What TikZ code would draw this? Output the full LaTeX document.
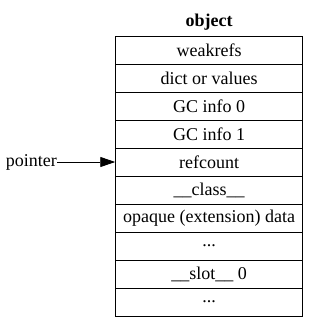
\documentclass[tikz,border=0pt]{standalone}
\usepackage{fontspec}
\setmainfont{Liberation Serif}
\usetikzlibrary{arrows.meta}
\begin{document}
\begin{tikzpicture}[x=1pt,y=-1pt,
  cell/.style={draw, line width=0.9pt, minimum width=187pt, minimum height=28pt, inner sep=0pt, font=\fontsize{18}{20}\selectfont},
  lbl/.style={inner sep=0pt, font=\fontsize{18}{20}\selectfont}]
\useasboundingbox (0,0) rectangle (319,327);
\node[cell] (r0) at (209.2,50) {weakrefs};
\node[cell] (r1) at (209.2,78) {dict or values};
\node[cell] (r2) at (209.2,106) {GC info 0};
\node[cell] (r3) at (209.2,134) {GC info 1};
\node[cell] (r4) at (209.2,162) {refcount};
\node[cell] (r5) at (209.2,190) {\_\_class\_\_};
\node[cell] (r6) at (209.2,218) {opaque (extension) data};
\node[cell] (r7) at (209.2,246) {...};
\node[cell] (r8) at (209.2,274) {\_\_slot\_\_ 0};
\node[cell] (r9) at (209.2,302) {...};
\node[lbl, font=\fontsize{18}{20}\selectfont\bfseries] (title) at (209.2,22) {object};
\node[lbl, anchor=east] (ptr) at (57,162) {pointer};
\draw[line width=0.9pt, -{Triangle[length=15pt,width=10pt]}] (ptr.east) -- (r4.west);
\end{tikzpicture}
\end{document}
